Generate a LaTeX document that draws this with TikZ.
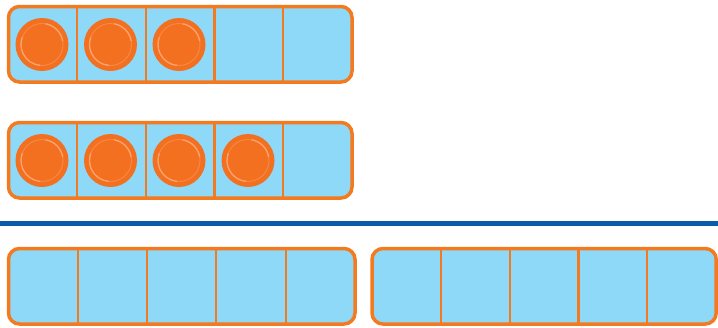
\documentclass[tikz,border=0pt]{standalone}
\usetikzlibrary{calc}
\definecolor{cellblue}{HTML}{8ED8F8}
\definecolor{frameor}{HTML}{F47A20}
\definecolor{ctrfill}{HTML}{F37021}
\definecolor{ctrhi}{HTML}{F9A46C}
\definecolor{rule}{HTML}{0A5BA8}
\tikzset{
  frame/.style={draw=frameor, fill=cellblue, line width=3.5pt, rounded corners=11pt},
  divider/.style={draw=frameor, line width=2.2pt},
  counter/.style={fill=ctrfill, draw=none},
  ctrring/.style={draw=ctrhi, line width=1.3pt},
  ctrfaint/.style={draw=ctrhi, draw opacity=0.45, line width=1pt},
}
\newcommand{\tenframe}[5]{% x0 y0 x1 y1 name
  \draw[frame] (#1,#2) rectangle (#3,#4);
  \coordinate (#5-nw) at (#1,#2);
  \coordinate (#5-se) at (#3,#4);
  \foreach \i in {1,2,3,4}{
    \draw[divider] ($(#5-nw)!\i/5!(#5-se|-#5-nw)$) -- ($(#5-nw|-#5-se)!\i/5!(#5-se)$);
  }
}
\newcommand{\ctr}[3]{% cx cy name
  \fill[counter] (#1,#2) circle (26.5);
  \draw[ctrfaint] (#1,#2) circle (21);
  \draw[ctrring] ($(#1,#2)+(95:21)$) arc (95:200:21);
  \draw[ctrring] ($(#1,#2)+(-10:21)$) arc (-10:-80:21);
  \coordinate (#3) at (#1,#2);
}
\begin{document}
\begin{tikzpicture}[x=1pt,y=-1pt]
\useasboundingbox (0,0) rectangle (718,327);
\tenframe{8.5}{6.5}{352}{82}{fa}
\tenframe{8.5}{122.5}{352}{198}{fb}
\tenframe{8.5}{248.5}{355}{324}{fc}
\tenframe{372}{248.5}{716.2}{324}{fd}
\ctr{42}{44.5}{a1}
\ctr{110.5}{44.5}{a2}
\ctr{179}{44.5}{a3}
\ctr{42}{160.5}{b1}
\ctr{110.5}{160.5}{b2}
\ctr{179}{160.5}{b3}
\ctr{248}{160.5}{b4}
\draw[rule, line width=4.5pt] (0,223.5) coordinate (r0) -- (718,223.5) coordinate (r1);
\end{tikzpicture}
\end{document}
